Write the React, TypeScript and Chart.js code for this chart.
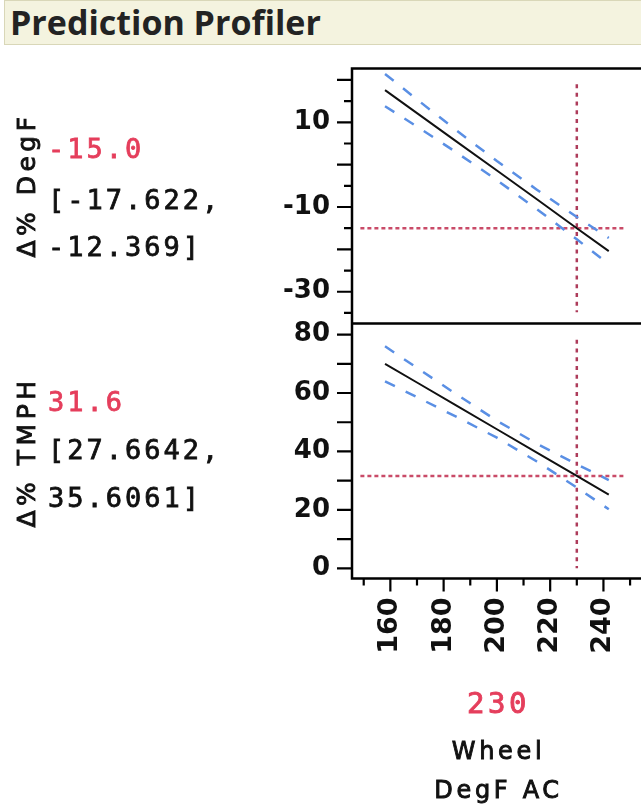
import React, { useEffect, useRef } from 'react';
import { Chart, registerables } from 'chart.js';

Chart.register(...registerables);

// ---- data ----
const factorX = [158, 170, 185, 200, 215, 230, 242];
const degfPred = [17.6, 12.17, 5.39, -1.39, -8.18, -15.0, -20.4];
const degfUpper = [21.4, 15.4, 8.0, 0.85, -5.9, -12.369, -17.3];
const degfLower = [13.8, 9.0, 2.8, -3.65, -10.5, -17.622, -23.5];
const tmphPred = [70.0, 63.6, 55.6, 47.6, 39.6, 31.6, 25.2];
const tmphUpper = [76.0, 68.6, 59.45, 50.5, 42.65, 35.6061, 30.2];
const tmphLower = [64.0, 58.6, 51.75, 44.7, 36.55, 27.6642, 20.2];

const currentX = 230;
const degfCurrent = -15.0;
const tmphCurrent = 31.6;
const degfCI = ['-17.622', '-12.369'];
const tmphCI = ['27.6642', '35.6061'];

const hairX = [148.75, 248.1];
const degfHairY = [19.0, -34.85];
const tmphHairY = [78.2, 0];

const xRange = [145.6, 254.1];
const degfRange = [-37.5, 22.7];
const tmphRange = [-3.5, 83.8];

const xTickLabels = [160, 180, 200, 220, 240];
const xMajorMarks = [160, 180, 200, 220, 240];
const xMinorMarks = [150, 170, 190, 210, 230, 250];
const degfTickLabels = [10, -10, -30];
const degfMajorMarks = [20, 10, 0, -10, -20, -30];
const degfMinorMarks = [15, 5, -5, -15, -25, -35];
const tmphTickLabels = [0, 20, 40, 60, 80];
const tmphMajorMarks = [0, 10, 20, 30, 40, 50, 60, 70, 80];

const responseNames = ['Δ% DegF', 'Δ% TMPH'];
const factorName = ['Wheel', 'DegF AC'];
const title = 'Prediction Profiler';

// ---- styles ----
const BLUE = '#5a8fe4';
const RED_H = '#c94b68';
const RED_V = '#ad3b5a';
const RED_TXT = '#e53e5c';
const INK = '#111';

const pts = (xs: number[], ys: number[]) => xs.map((x, i) => ({ x, y: ys[i] }));

const framePlugin = {
  id: 'frame',
  afterDraw(chart: any) {
    const { ctx, chartArea, scales } = chart;
    const { left, right, top, bottom } = chartArea;
    ctx.save();
    ctx.strokeStyle = '#000';
    ctx.lineWidth = 2.5;
    ctx.beginPath();
    ctx.moveTo(right + 4, top);
    ctx.lineTo(left, top);
    ctx.lineTo(left, bottom);
    ctx.lineTo(right + 4, bottom);
    const mid = scales.yTop.bottom;
    ctx.moveTo(left, mid);
    ctx.lineTo(right + 4, mid);
    ctx.stroke();
    ctx.lineWidth = 2.2;
    ctx.beginPath();
    const yTick = (scale: any, vals: number[], len: number) => {
      vals.forEach((v) => {
        const y = scale.getPixelForValue(v);
        ctx.moveTo(left - len, y);
        ctx.lineTo(left, y);
      });
    };
    yTick(scales.yTop, degfMajorMarks, 15);
    yTick(scales.yTop, degfMinorMarks, 8);
    yTick(scales.yBot, tmphMajorMarks, 15);
    const xTick = (vals: number[], len: number) => {
      vals.forEach((v) => {
        const x = scales.x.getPixelForValue(v);
        ctx.moveTo(x, bottom);
        ctx.lineTo(x, bottom + len);
      });
    };
    xTick(xMajorMarks, 13);
    xTick(xMinorMarks, 7);
    ctx.stroke();
    ctx.restore();
  },
};

const tickFont = { family: 'DejaVu Sans', size: 26, weight: 'bold' as const };

function ProfilerChart() {
  const ref = useRef<HTMLCanvasElement | null>(null);
  useEffect(() => {
    if (!ref.current) return;
    const hiddenGrid = {
      display: true,
      drawOnChartArea: false,
      drawTicks: true,
      tickLength: 0,
      color: 'rgba(0,0,0,0)',
    };
    const fitY = (s: any) => { s.width = 352; s.paddingTop = 0; s.paddingBottom = 0; };
    const chart = new Chart(ref.current, {
      type: 'line',
      data: {
        datasets: [
          { data: pts(factorX, degfPred), yAxisID: 'yTop', borderColor: INK, borderWidth: 2 },
          { data: pts(factorX, tmphPred), yAxisID: 'yBot', borderColor: INK, borderWidth: 2 },
          { data: pts(factorX, degfUpper), yAxisID: 'yTop', borderColor: BLUE, borderWidth: 2.5, borderDash: [11, 12] },
          { data: pts(factorX, degfLower), yAxisID: 'yTop', borderColor: BLUE, borderWidth: 2.5, borderDash: [11, 12] },
          { data: pts(factorX, tmphUpper), yAxisID: 'yBot', borderColor: BLUE, borderWidth: 2.5, borderDash: [11, 12] },
          { data: pts(factorX, tmphLower), yAxisID: 'yBot', borderColor: BLUE, borderWidth: 2.5, borderDash: [11, 12] },
          { data: pts(hairX, [degfCurrent, degfCurrent]), yAxisID: 'yTop', borderColor: RED_H, borderWidth: 2.5, borderDash: [4, 3] },
          { data: pts([currentX, currentX], degfHairY), yAxisID: 'yTop', borderColor: RED_V, borderWidth: 2.5, borderDash: [4, 4.7] },
          { data: pts(hairX, [tmphCurrent, tmphCurrent]), yAxisID: 'yBot', borderColor: RED_H, borderWidth: 2.5, borderDash: [4, 3] },
          { data: pts([currentX, currentX], tmphHairY), yAxisID: 'yBot', borderColor: RED_V, borderWidth: 2.5, borderDash: [4, 4.7] },
        ],
      },
      options: {
        animation: false,
        responsive: false,
        layout: { padding: { top: 68.5, left: 0, right: 0, bottom: 0 } },
        plugins: { legend: { display: false }, tooltip: { enabled: false } },
        elements: { point: { radius: 0 }, line: { tension: 0 } },
        scales: {
          x: {
            type: 'linear',
            position: 'bottom',
            min: xRange[0],
            max: xRange[1],
            afterFit: (s: any) => { s.height = 233.5; s.paddingLeft = 0; s.paddingRight = 0; },
            afterBuildTicks: (s: any) => { s.ticks = xTickLabels.map((v) => ({ value: v })); },
            grid: hiddenGrid,
            border: { display: false },
            ticks: { autoSkip: false, minRotation: 90, maxRotation: 90, padding: 19, font: { ...tickFont, size: 27 }, color: INK },
          },
          yBot: {
            type: 'linear',
            position: 'left',
            stack: 'profiler',
            stackWeight: 1,
            min: tmphRange[0],
            max: tmphRange[1],
            afterFit: fitY,
            afterBuildTicks: (s: any) => { s.ticks = tmphTickLabels.map((v) => ({ value: v })); },
            grid: hiddenGrid,
            border: { display: false },
            ticks: { autoSkip: false, padding: 22, font: tickFont, color: INK },
          },
          yTop: {
            type: 'linear',
            position: 'left',
            stack: 'profiler',
            stackWeight: 1,
            min: degfRange[0],
            max: degfRange[1],
            afterFit: fitY,
            afterBuildTicks: (s: any) => { s.ticks = degfTickLabels.map((v) => ({ value: v })); },
            grid: hiddenGrid,
            border: { display: false },
            ticks: { autoSkip: false, padding: 22, font: tickFont, color: INK },
          },
        },
      } as any,
      plugins: [framePlugin],
    });
    return () => chart.destroy();
  }, []);
  return <canvas ref={ref} width={641} height={812} style={{ position: 'absolute', left: 0, top: 0, width: 641, height: 812 }} />;
}

const valStyle = (top: number, color: string): React.CSSProperties => ({
  position: 'absolute',
  left: 48,
  top,
  fontFamily: '"DejaVu Sans Mono", monospace',
  fontSize: 27,
  lineHeight: '27px',
  letterSpacing: '3px',
  color,
  WebkitTextStroke: `0.8px ${color}`,
  whiteSpace: 'nowrap',
});

const rotStyle = (cx: number, cy: number): React.CSSProperties => ({
  position: 'absolute',
  left: cx,
  top: cy,
  transform: 'translate(-50%, -50%) rotate(-90deg)',
  fontFamily: '"DejaVu Sans", sans-serif',
  fontSize: 25,
  lineHeight: '25px',
  letterSpacing: '4.5px',
  color: INK,
  WebkitTextStroke: `0.9px ${INK}`,
  whiteSpace: 'nowrap',
});

const centerStyle = (cy: number, size: number, color: string, family: string, ls: number): React.CSSProperties => ({
  position: 'absolute',
  left: 496.7,
  top: cy - size / 2,
  transform: 'translateX(-50%)',
  paddingLeft: ls,
  fontFamily: family,
  fontSize: size,
  lineHeight: `${size}px`,
  letterSpacing: `${ls}px`,
  color,
  WebkitTextStroke: `0.9px ${color}`,
  whiteSpace: 'nowrap',
});

export default function App() {
  return (
    <div style={{ position: 'absolute', left: 0, top: 0, width: 641, height: 812, overflow: 'hidden', background: '#fff' }}>
      <div
        style={{
          position: 'absolute',
          left: 4,
          top: 0,
          width: 700,
          height: 43,
          background: '#f4f3df',
          border: '1.5px solid #d9d7b8',
          borderRight: 'none',
          fontFamily: '"Open Sans", sans-serif',
          fontWeight: 700,
          fontSize: 34,
          lineHeight: '43px',
          color: '#232323',
          paddingLeft: 5,
          boxSizing: 'content-box',
        }}
      >
        {title}
      </div>
      <ProfilerChart />
      <div style={rotStyle(26, 185)}>{responseNames[0]}</div>
      <div style={rotStyle(26, 452)}>{responseNames[1]}</div>
      <div style={valStyle(148 - 13.5, RED_TXT)}>{degfCurrent.toFixed(1)}</div>
      <div style={valStyle(199 - 13.5, INK)}>{`[${degfCI[0]},`}</div>
      <div style={valStyle(246 - 13.5, INK)}>{`${degfCI[1]}]`}</div>
      <div style={valStyle(401 - 13.5, RED_TXT)}>{tmphCurrent.toFixed(1)}</div>
      <div style={valStyle(449 - 13.5, INK)}>{`[${tmphCI[0]},`}</div>
      <div style={valStyle(497 - 13.5, INK)}>{`${tmphCI[1]}]`}</div>
      <div style={centerStyle(703, 29, RED_TXT, '"DejaVu Sans Mono", monospace', 3.5)}>{currentX}</div>
      <div style={centerStyle(751, 24, INK, '"DejaVu Sans", sans-serif', 3.7)}>{factorName[0]}</div>
      <div style={centerStyle(790, 24, INK, '"DejaVu Sans", sans-serif', 3.7)}>{factorName[1]}</div>
    </div>
  );
}
